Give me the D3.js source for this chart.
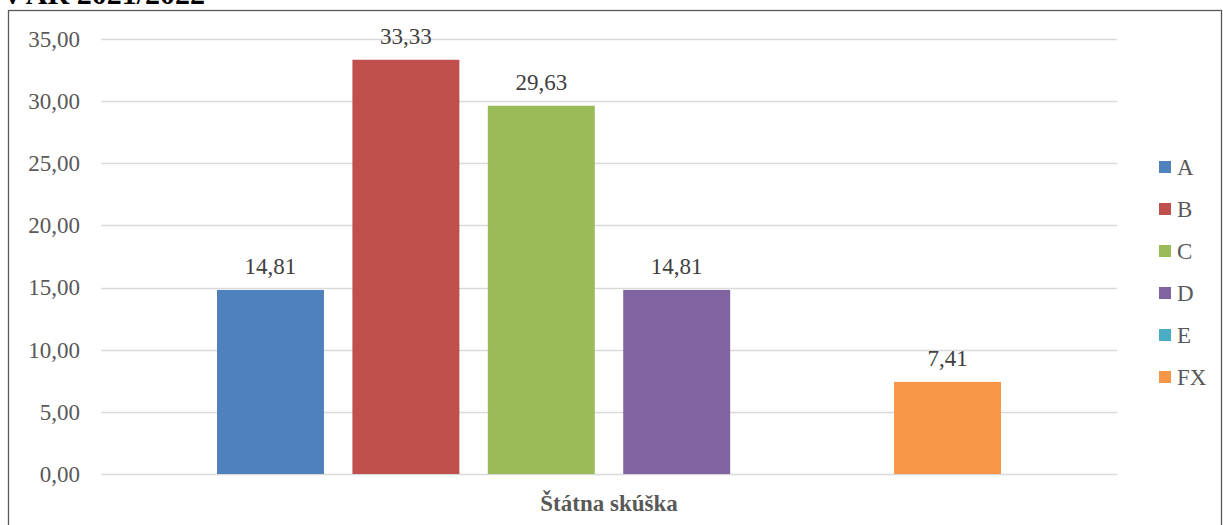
<!DOCTYPE html>
<html>
<head>
<meta charset="utf-8">
<script src="https://cdn.jsdelivr.net/npm/d3@7"></script>
<style>
html,body{margin:0;padding:0;background:#fff;}
svg{display:block;}
</style>
</head>
<body>
<svg id="chart" width="1223" height="525"></svg>
<script>
const category = "Štátna skúška";
const seriesNames = ["A", "B", "C", "D", "E", "FX"];
const seriesValues = [14.81, 33.33, 29.63, 14.81, 0, 7.41];
const seriesColors = ["#4f81bd", "#c0504d", "#9bbb59", "#8064a2", "#4bacc6", "#f79646"];
const yTicks = [0, 5, 10, 15, 20, 25, 30, 35];
const titleText = "v AR 2021/2022";

const svg = d3.select("#chart");
const font = "'Liberation Serif','Times New Roman',serif";
const fmt = v => d3.format(".2f")(v).replace(".", ",");

// cut-off heading
svg.append("text").attr("x", 5).attr("y", 4)
  .attr("font-family", font).attr("font-size", 30).attr("font-weight", "bold")
  .attr("fill", "#000").text(titleText);

// chart border
svg.append("rect").attr("x", 8.5).attr("y", 10.5).attr("width", 1213).attr("height", 530)
  .attr("fill", "none").attr("stroke", "#595959").attr("stroke-width", 1.3);

const plotL = 101, plotR = 1117;
const y = d3.scaleLinear().domain([0, 35]).range([474, 39]);
const xCat = d3.scaleBand().domain([category]).range([plotL, plotR]);
const x = d3.scaleBand().domain(seriesNames).range([217, 1001]).paddingInner(0.21).paddingOuter(0);

// gridlines
svg.append("g").selectAll("line").data(yTicks).join("line")
  .attr("x1", plotL).attr("x2", plotR)
  .attr("y1", d => Math.round(y(d)) + 0.5).attr("y2", d => Math.round(y(d)) + 0.5)
  .attr("stroke", "#d9d9d9").attr("stroke-width", 1.3);

// y axis labels
const yAxis = d3.axisLeft(y).tickValues(yTicks).tickFormat(fmt).tickSize(0).tickPadding(0);
const gy = svg.append("g").attr("transform", "translate(80,0)").call(yAxis);
gy.select(".domain").remove();
gy.selectAll("text").attr("font-family", font).attr("font-size", 23).attr("fill", "#595959");

// bars
svg.append("g").selectAll("rect").data(seriesNames).join("rect")
  .attr("x", d => x(d)).attr("width", x.bandwidth())
  .attr("y", (d, i) => y(seriesValues[i]))
  .attr("height", (d, i) => y(0) - y(seriesValues[i]))
  .attr("fill", (d, i) => seriesColors[i]);

// data labels
svg.append("g").selectAll("text").data(seriesNames.filter((d, i) => seriesValues[i] > 0)).join("text")
  .attr("x", d => x(d) + x.bandwidth() / 2)
  .attr("y", d => y(seriesValues[seriesNames.indexOf(d)]) - 16)
  .attr("text-anchor", "middle")
  .attr("font-family", font).attr("font-size", 23).attr("fill", "#404040")
  .text(d => fmt(seriesValues[seriesNames.indexOf(d)]));

// category label
svg.append("text").attr("x", xCat(category) + xCat.bandwidth() / 2).attr("y", 511)
  .attr("text-anchor", "middle").attr("font-family", font).attr("font-size", 23)
  .attr("font-weight", "bold").attr("fill", "#595959").text(category);

// legend
const lg = svg.append("g").selectAll("g").data(seriesNames).join("g")
  .attr("transform", (d, i) => `translate(1159,${167 + i * 42})`);
lg.append("rect").attr("x", 0).attr("y", -6).attr("width", 12).attr("height", 12)
  .attr("fill", (d, i) => seriesColors[i]);
lg.append("text").attr("x", 18).attr("y", 0).attr("dy", "0.35em")
  .attr("font-family", font).attr("font-size", 23).attr("fill", "#595959").text(d => d);
</script>
</body>
</html>
